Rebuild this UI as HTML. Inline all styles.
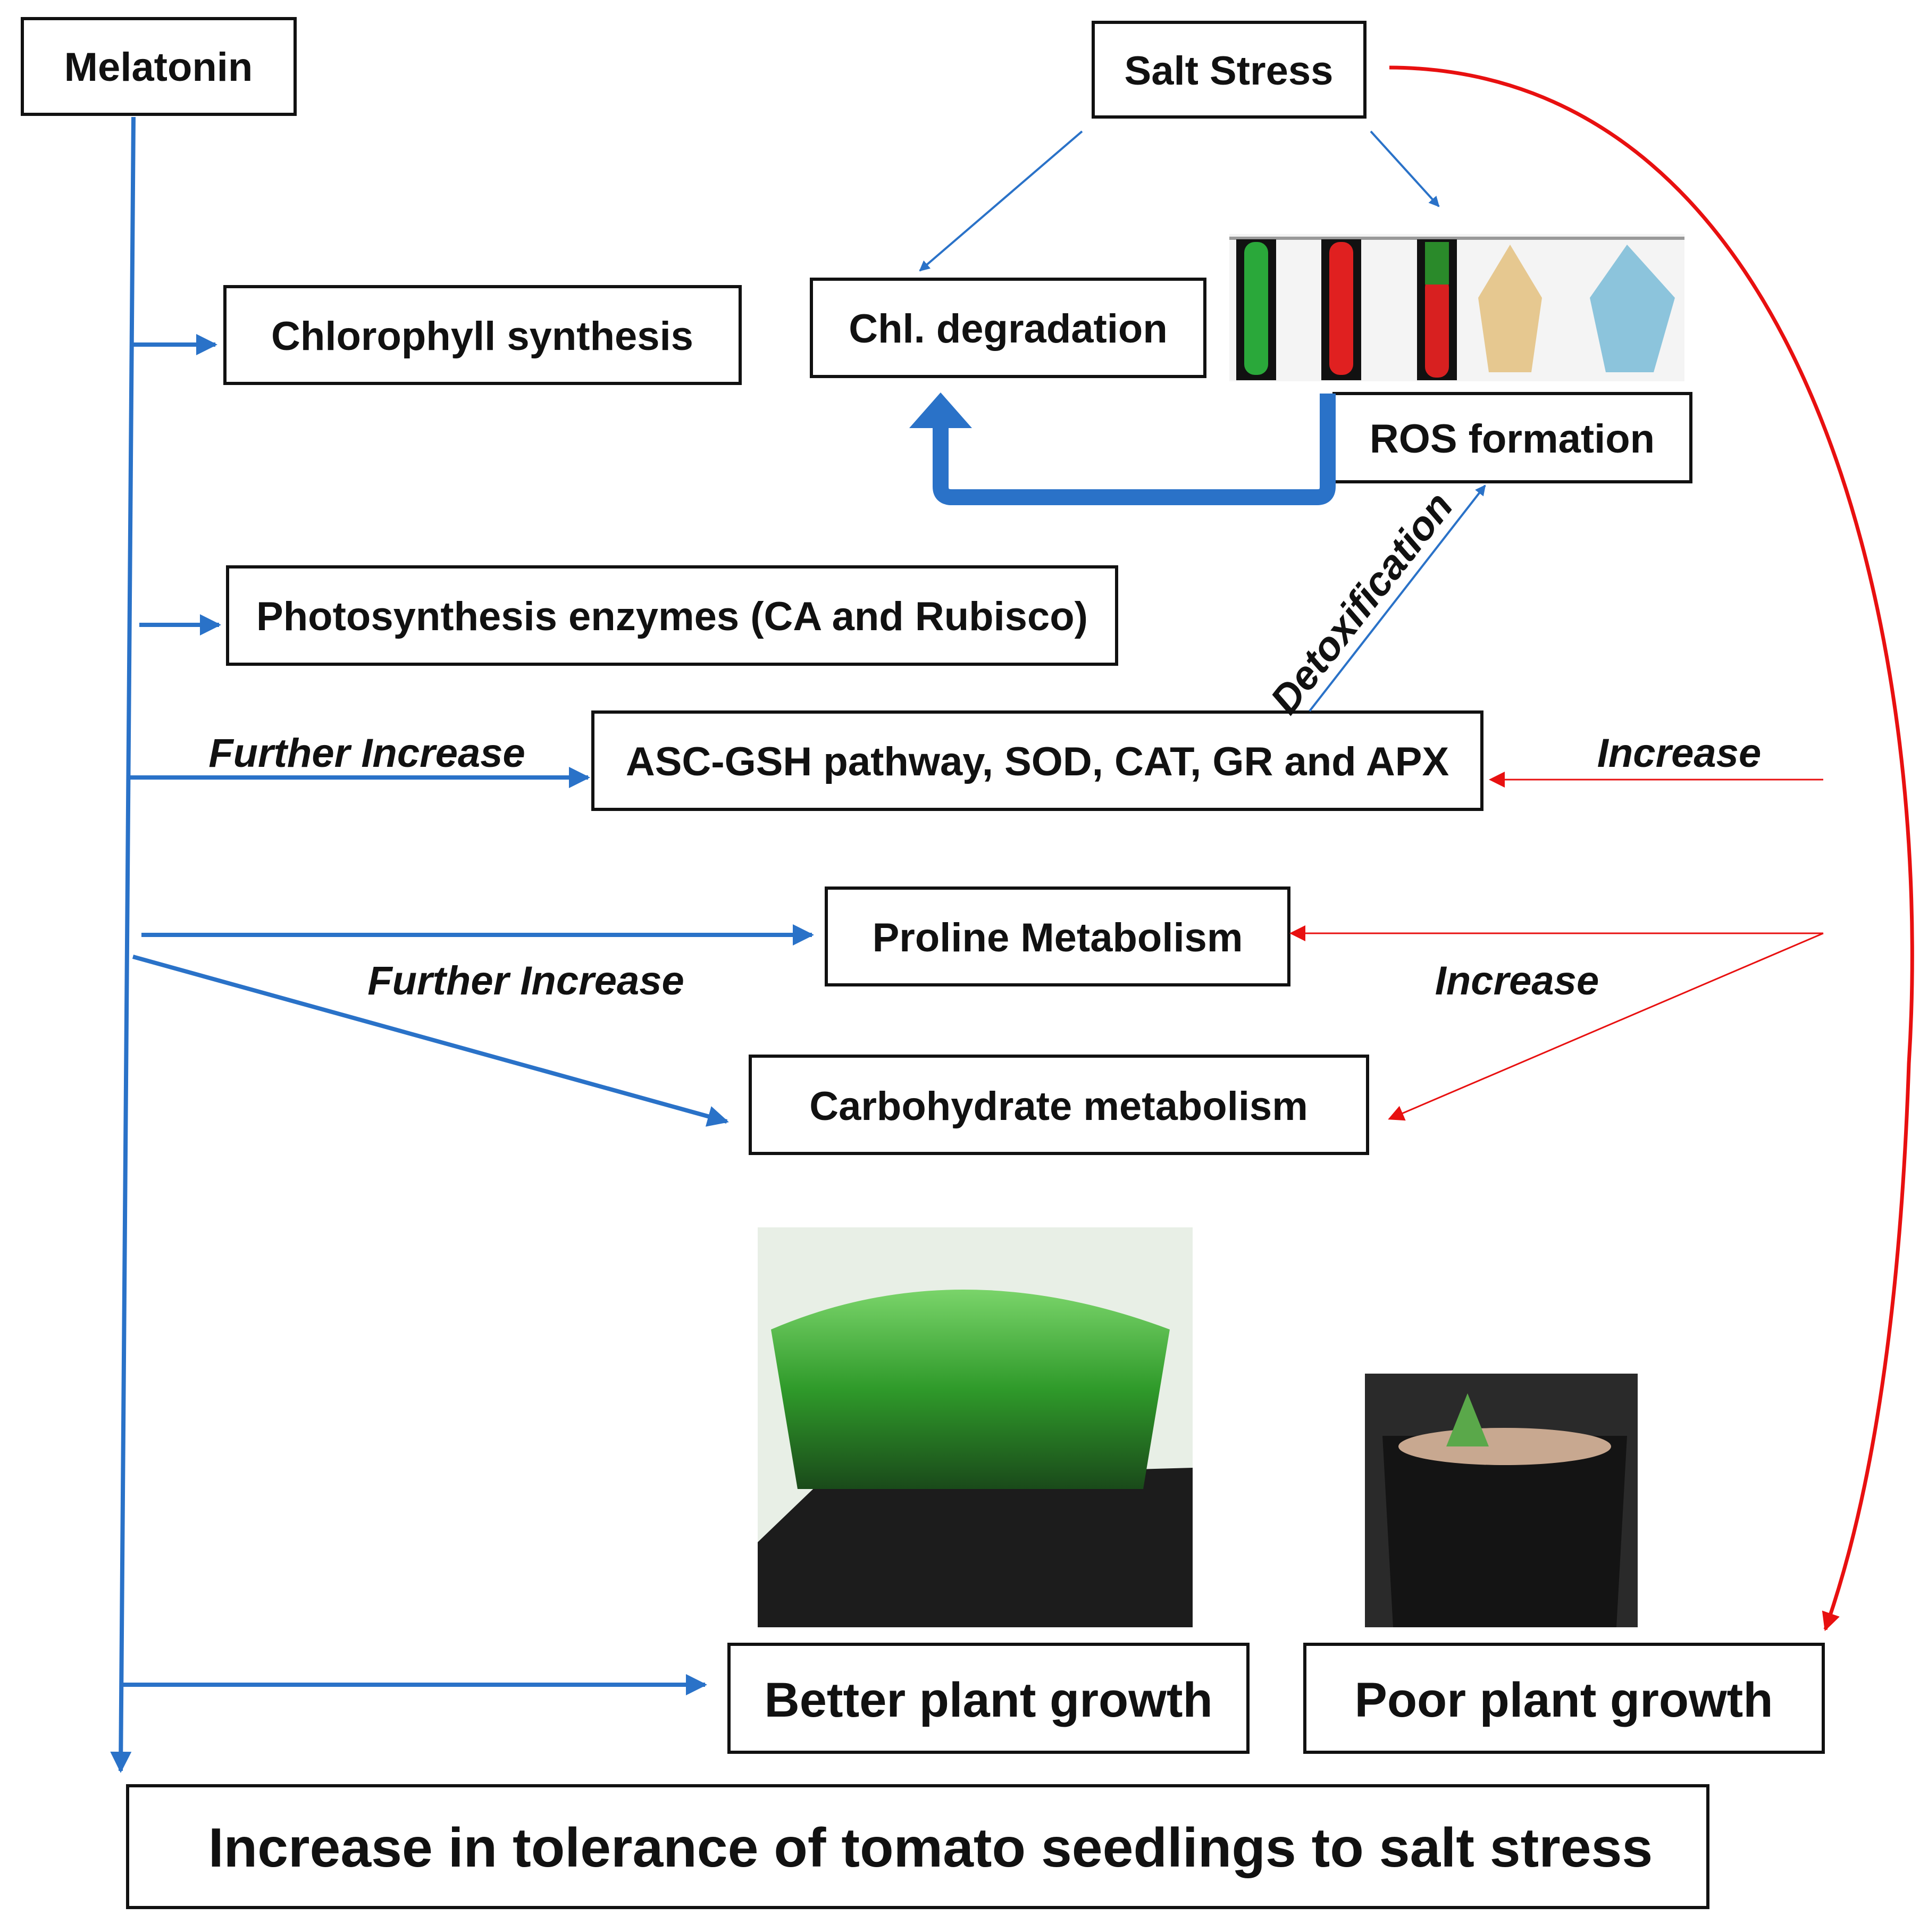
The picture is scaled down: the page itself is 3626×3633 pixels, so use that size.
<!DOCTYPE html>
<html><head><meta charset="utf-8"><style>
html,body{margin:0;padding:0;background:#fff}
svg text{font-family:"Liberation Sans",sans-serif;font-weight:bold;fill:#111}
</style></head><body>
<svg width="3626" height="3628" viewBox="0 0 3626 3628" xmlns="http://www.w3.org/2000/svg">
<defs>
<marker id="bh" viewBox="0 0 10 10" refX="9" refY="5" markerWidth="5" markerHeight="5" orient="auto" markerUnits="strokeWidth"><path d="M0,0L10,5L0,10z" fill="#2a72c8"/></marker>
<marker id="bh2" viewBox="0 0 10 10" refX="9" refY="5" markerWidth="6" markerHeight="5" orient="auto" markerUnits="strokeWidth"><path d="M0,0L10,5L0,10z" fill="#2a72c8"/></marker>
<marker id="rh" viewBox="0 0 10 10" refX="9" refY="5" markerWidth="10" markerHeight="10" orient="auto" markerUnits="strokeWidth"><path d="M0,0L10,5L0,10z" fill="#e81010"/></marker>
<marker id="rh2" viewBox="0 0 10 10" refX="9" refY="5" markerWidth="5" markerHeight="5" orient="auto" markerUnits="strokeWidth"><path d="M0,0L10,5L0,10z" fill="#e81010"/></marker>
<linearGradient id="g1" x1="0" x2="0" y1="0" y2="1"><stop offset="0" stop-color="#7ad46a"/><stop offset="0.5" stop-color="#2f9a2a"/><stop offset="1" stop-color="#1a4a1a"/></linearGradient>
</defs>
<g fill="none" stroke="#111" stroke-width="6">
<rect x="42" y="35" width="513" height="180"/>
<rect x="2056" y="42" width="511" height="178"/>
<rect x="423" y="539" width="969" height="182"/>
<rect x="1526" y="525" width="740" height="183"/>
<rect x="2509" y="740" width="671" height="166"/>
<rect x="428" y="1066" width="1672" height="183"/>
<rect x="1115" y="1339" width="1672" height="183"/>
<rect x="1554" y="1670" width="870" height="182"/>
<rect x="1411" y="1986" width="1161" height="183"/>
<rect x="1371" y="3092" width="976" height="203"/>
<rect x="2454" y="3092" width="975" height="203"/>
<rect x="240" y="3358" width="2972" height="229"/>
</g>
<rect x="2312" y="440" width="856" height="277" fill="#f4f4f4"/>
<line x1="2312" y1="448" x2="3168" y2="448" stroke="#999" stroke-width="6"/>
<rect x="2325" y="450" width="75" height="265" fill="#111"/><rect x="2340" y="455" width="45" height="250" rx="20" fill="#2aa83a"/>
<rect x="2485" y="450" width="75" height="265" fill="#111"/><rect x="2500" y="455" width="45" height="250" rx="20" fill="#e02020"/>
<rect x="2665" y="450" width="75" height="265" fill="#111"/><rect x="2680" y="520" width="45" height="190" rx="20" fill="#d82020"/><rect x="2680" y="455" width="45" height="80" fill="#2a8a2a"/>
<path d="M2840,460 L2900,560 L2880,700 L2800,700 L2780,560z" fill="#e6c890"/>
<path d="M3060,460 L3150,560 L3110,700 L3020,700 L2990,560z" fill="#8cc4dc"/>
<rect x="1425" y="2308" width="818" height="752" fill="#e8efe6"/>
<path d="M1425,2900 L1550,2780 L2243,2760 L2243,3060 L1425,3060z" fill="#1c1c1c"/>
<path d="M1450,2500 Q1800,2350 2200,2500 L2150,2800 L1500,2800z" fill="url(#g1)"/>
<rect x="2567" y="2583" width="513" height="477" fill="#2a2a2a"/>
<path d="M2600,2700 L3060,2700 L3040,3060 L2620,3060z" fill="#141414"/>
<ellipse cx="2830" cy="2720" rx="200" ry="35" fill="#c8a890"/>
<path d="M2720,2720 L2760,2620 L2800,2720z" fill="#5aa84a"/>
<g stroke="#2a72c8" stroke-width="8" fill="none">
<line x1="251" y1="220" x2="227" y2="3330" marker-end="url(#bh2)"/>
<line x1="251" y1="648" x2="405" y2="648" marker-end="url(#bh2)"/>
<line x1="262" y1="1175" x2="412" y2="1175" marker-end="url(#bh2)"/>
<line x1="245" y1="1462" x2="1106" y2="1462" marker-end="url(#bh2)"/>
<line x1="266" y1="1758" x2="1527" y2="1758" marker-end="url(#bh2)"/>
<line x1="250" y1="1799" x2="1367" y2="2109" marker-end="url(#bh2)"/>
<line x1="231" y1="3168" x2="1326" y2="3168" marker-end="url(#bh2)"/>
</g>
<g stroke="#2a72c8" stroke-width="4" fill="none">
<line x1="2035" y1="247" x2="1730" y2="509" marker-end="url(#bh)"/>
<line x1="2578" y1="247" x2="2706" y2="388" marker-end="url(#bh)"/>
<line x1="2463" y1="1337" x2="2793" y2="913" marker-end="url(#bh)"/>
</g>
<path d="M2497,740 L2497,915 Q2497,935 2477,935 L1790,935 Q1769,935 1769,915 L1769,800" stroke="#2a72c8" stroke-width="30" fill="none"/>
<path d="M1710,805 L1769,738 L1828,805z" fill="#2a72c8"/>
<path d="M2613,127 C3400,130 3640,1200 3590,2000 C3570,2600 3490,2900 3433,3064" stroke="#e81010" stroke-width="7" fill="none" marker-end="url(#rh2)"/>
<g stroke="#e81010" stroke-width="3" fill="none">
<line x1="3429" y1="1466" x2="2803" y2="1466" marker-end="url(#rh)"/>
<line x1="3429" y1="1755" x2="2428" y2="1755" marker-end="url(#rh)"/>
<line x1="3429" y1="1755" x2="2613" y2="2104" marker-end="url(#rh)"/>
</g>
<g font-size="76" text-anchor="middle">
<text x="298" y="152">Melatonin</text>
<text x="2311" y="159">Salt Stress</text>
<text x="907" y="658">Chlorophyll synthesis</text>
<text x="1896" y="644">Chl. degradation</text>
<text x="2844" y="851">ROS formation</text>
<text x="1264" y="1185">Photosynthesis enzymes (CA and Rubisco)</text>
<text x="1951" y="1458">ASC-GSH pathway, SOD, CAT, GR and APX</text>
<text x="1989" y="1789">Proline Metabolism</text>
<text x="1991" y="2106">Carbohydrate metabolism</text>
<text x="1859" y="3228" font-size="92">Better plant growth</text>
<text x="2941" y="3228" font-size="92">Poor plant growth</text>
<text x="1750" y="3510" font-size="104">Increase in tolerance of tomato seedlings to salt stress</text>
</g>
<g font-size="76" font-style="italic" text-anchor="middle">
<text x="690" y="1442">Further Increase</text>
<text x="3158" y="1442">Increase</text>
<text x="989" y="1870">Further Increase</text>
<text x="2853" y="1870">Increase</text>
<text x="2560" y="1160" transform="rotate(-52 2560 1133)">Detoxification</text>
</g>
</svg>
</body></html>
